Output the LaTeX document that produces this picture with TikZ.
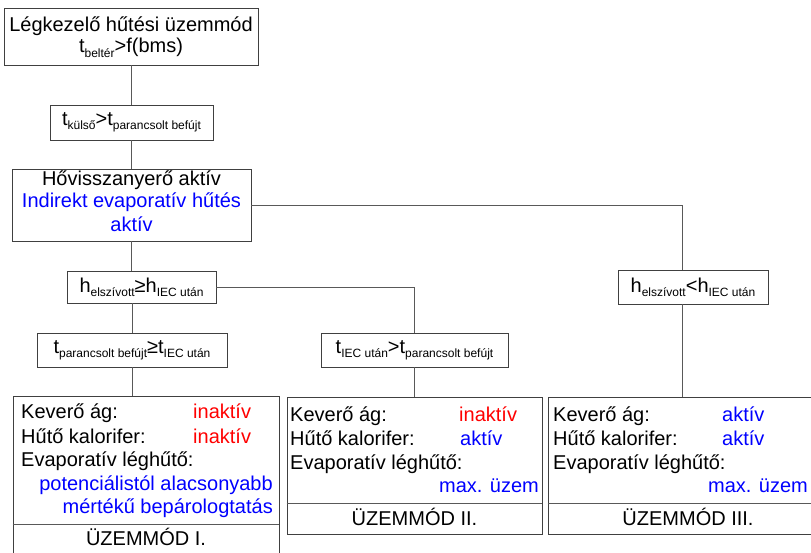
\documentclass[tikz,border=0pt]{standalone}
\usepackage{fontspec}
\setmainfont{Liberation Sans}
\usetikzlibrary{positioning}
\definecolor{kek}{RGB}{0,0,255}
\definecolor{piros}{RGB}{255,0,0}
\newcommand{\lowtxt}[1]{\raisebox{-0.4ex}{\fontsize{12}{12}\selectfont #1}}
\tikzset{
  box/.style={draw=black!75, line width=0.9pt, inner sep=0pt},
  conn/.style={draw=black!65, line width=0.9pt},
  txt/.style={inner sep=0pt, font=\fontsize{20}{24}\selectfont},
  cond/.style={box, font=\fontsize{20}{24}\selectfont}
}

\begin{document}
\begin{tikzpicture}[x=1pt,y=-1pt]
    \clip (0,0) rectangle (811,553);
    % boxes
    \node [box, minimum width=254pt, minimum height=57pt] (mode) at (131,36.5) {};
    \node [cond, minimum width=163pt, minimum height=35pt] (kulso) at (131.5,122.5) {t\lowtxt{külső}>t\lowtxt{parancsolt befújt}};
    \node [box, minimum width=239pt, minimum height=72pt] (hrv) at (131.5,205) {};
    \node [cond, minimum width=149pt, minimum height=32pt] (hge) at (141.5,287) {h\lowtxt{elszívott}≥h\lowtxt{IEC után}};
    \node [cond, minimum width=150pt, minimum height=34pt] (hlt) at (693,287) {h\lowtxt{elszívott}<h\lowtxt{IEC után}};
    \node [cond, minimum width=190pt, minimum height=34pt] (tge) at (132,350) {t\lowtxt{parancsolt befújt}≥t\lowtxt{IEC után}};
    \node [cond, minimum width=187pt, minimum height=34pt] (tlt) at (414.5,350) {t\lowtxt{IEC után}>t\lowtxt{parancsolt befújt}};
    \node [box, minimum width=266pt, minimum height=174pt] (modeI) at (146,483) {};
    \node [box, minimum width=255pt, minimum height=137pt] (modeII) at (414.5,465.5) {};
    \node [box, minimum width=280pt, minimum height=137pt] (modeIII) at (688,465.5) {};
    \draw [conn] (modeI.west |- 0,524) -- (modeI.east |- 0,524);
    \draw [conn] (modeII.west |- 0,503) -- (modeII.east |- 0,503);
    \draw [conn] (modeIII.west |- 0,503) -- (modeIII.east |- 0,503);

    % connectors
    \draw [conn] (mode.south) -- (mode.south |- kulso.north);
    \draw [conn] (kulso.south) -- (kulso.south |- hrv.north);
    \draw [conn] (hrv.south) -- (hrv.south |- hge.north);
    \draw [conn] (hrv.east) -| ([xshift=-11pt]hlt.north);
    \draw [conn] ([xshift=-11pt]hlt.south) -- ([xshift=-11pt]hlt.south |- modeIII.north);
    \draw [conn] (tge.north |- hge.south) -- (tge.north);
    \draw [conn] (hge.east) -| (tlt.north);
    \draw [conn] (tge.south) -- (tge.south |- modeI.north);
    \draw [conn] (tlt.south) -- (tlt.south |- modeII.north);

    % texts
    \node [txt, anchor=base] (mode1) at (131,32) {Légkezelő hűtési üzemmód};
    \node [txt, anchor=base] (mode2) at (131,53) {t\lowtxt{beltér}>f(bms)};
    \node [txt, anchor=base] (hrv1) at (131.5,186) {Hővisszanyerő aktív};
    \node [txt, anchor=base, text=kek] (hrv2) at (131.5,208) {Indirekt evaporatív hűtés};
    \node [txt, anchor=base, text=kek] (hrv3) at (131.5,232) {aktív};

    \node [txt, anchor=base west] (kevI) at (21,418) {Keverő ág:};
    \node [txt, anchor=base west, text=piros] (kevIv) at (193,418) {inaktív};
    \node [txt, anchor=base west] (kalI) at (21,443) {Hűtő kalorifer:};
    \node [txt, anchor=base west, text=piros] (kalIv) at (193,443) {inaktív};
    \node [txt, anchor=base west] (evI) at (21,466) {Evaporatív léghűtő:};
    \node [txt, anchor=base east, text=kek] (evIa) at (273,490) {potenciálistól alacsonyabb};
    \node [txt, anchor=base east, text=kek] (evIb) at (273,513) {mértékű bepárologtatás};
    \node [txt, anchor=base] (nevI) at (146,545) {ÜZEMMÓD I.};

    \node [txt, anchor=base west] (kevII) at (290,421) {Keverő ág:};
    \node [txt, anchor=base west, text=piros] (kevIIv) at (459,421) {inaktív};
    \node [txt, anchor=base west] (kalII) at (290,445) {Hűtő kalorifer:};
    \node [txt, anchor=base west, text=kek] (kalIIv) at (460,445) {aktív};
    \node [txt, anchor=base west] (evII) at (290,469) {Evaporatív léghűtő:};
    \node [txt, anchor=base east, text=kek] (evIIa) at (539,492) {max. üzem};
    \node [txt, anchor=base] (nevII) at (414.5,525) {ÜZEMMÓD II.};

    \node [txt, anchor=base west] (kevIII) at (553,421) {Keverő ág:};
    \node [txt, anchor=base west, text=kek] (kevIIIv) at (722,421) {aktív};
    \node [txt, anchor=base west] (kalIII) at (553,445) {Hűtő kalorifer:};
    \node [txt, anchor=base west, text=kek] (kalIIIv) at (722,445) {aktív};
    \node [txt, anchor=base west] (evIII) at (553,469) {Evaporatív léghűtő:};
    \node [txt, anchor=base east, text=kek] (evIIIa) at (808,492) {max. üzem};
    \node [txt, anchor=base] (nevIII) at (688,525) {ÜZEMMÓD III.};
\end{tikzpicture}
\end{document}
